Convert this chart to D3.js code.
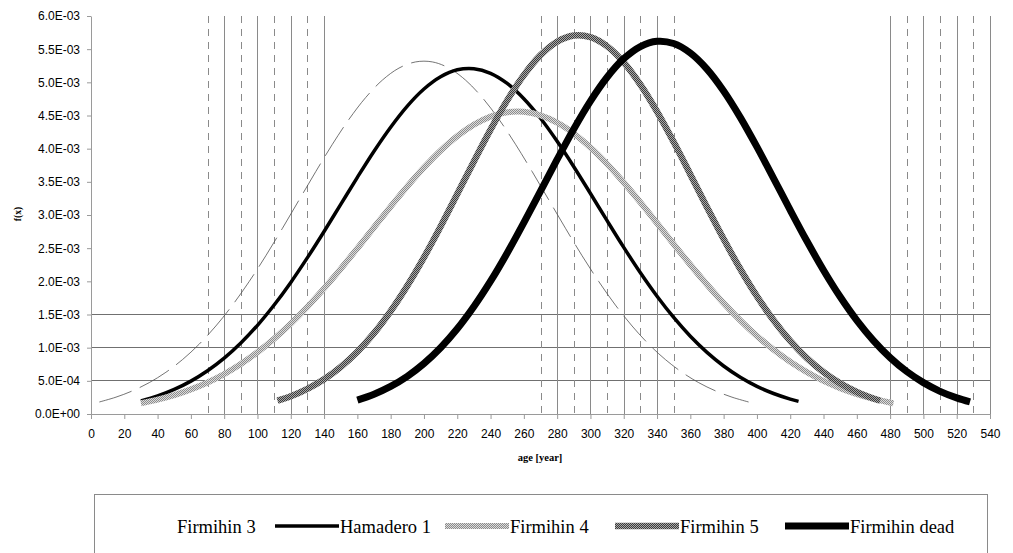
<!DOCTYPE html>
<html>
<head>
<meta charset="utf-8">
<script src="https://cdn.jsdelivr.net/npm/d3@7"></script>
<style>
  body { margin: 0; background: #fff; }
  svg { display: block; }
</style>
</head>
<body>
<svg id="chart"></svg>
<script>
// values are in units of 1E-03
const ageF3 = [5, 15, 25, 35, 45, 55, 65, 75, 85, 95, 105, 115, 125, 135, 145, 155, 165, 175, 185, 195,
               205, 215, 225, 235, 245, 255, 265, 275, 285, 295, 305, 315, 325, 335, 345, 355, 365, 375, 385, 395];
const valF3 = [0.181, 0.254, 0.350, 0.473, 0.629, 0.821, 1.053, 1.327, 1.642, 1.997, 2.385, 2.800, 3.227, 3.654,
               4.066, 4.444, 4.771, 5.033, 5.215, 5.308, 5.308, 5.215, 5.033, 4.771, 4.444, 4.066, 3.654, 3.227,
               2.800, 2.385, 1.997, 1.642, 1.327, 1.053, 0.821, 0.629, 0.473, 0.350, 0.254, 0.181];

const ageH1 = [30, 40, 50, 60, 70, 80, 90, 100, 110, 120, 130, 140, 150, 160, 170, 180, 190, 200, 210, 220,
               230, 240, 250, 260, 270, 280, 290, 300, 310, 320, 330, 340, 350, 360, 370, 380, 390, 400, 410, 420, 425];
const valH1 = [0.198, 0.273, 0.371, 0.496, 0.652, 0.842, 1.070, 1.337, 1.643, 1.984, 2.357, 2.752, 3.160, 3.568,
               3.962, 4.324, 4.642, 4.899, 5.084, 5.189, 5.206, 5.136, 4.983, 4.753, 4.458, 4.111, 3.728, 3.324,
               2.914, 2.512, 2.129, 1.775, 1.455, 1.172, 0.929, 0.724, 0.554, 0.417, 0.309, 0.225, 0.191];

const ageF4 = [30, 40, 50, 60, 70, 80, 90, 100, 110, 120, 130, 140, 150, 160, 170, 180, 190, 200, 210, 220,
               230, 240, 250, 260, 270, 280, 290, 300, 310, 320, 330, 340, 350, 360, 370, 380, 390, 400, 410, 420,
               430, 440, 450, 460, 470, 480, 482];
const valF4 = [0.162, 0.217, 0.285, 0.371, 0.476, 0.603, 0.754, 0.931, 1.134, 1.363, 1.617, 1.894, 2.189, 2.498,
               2.813, 3.127, 3.431, 3.715, 3.971, 4.190, 4.363, 4.484, 4.549, 4.555, 4.502, 4.392, 4.228, 4.018,
               3.769, 3.490, 3.189, 2.876, 2.561, 2.250, 1.952, 1.671, 1.412, 1.177, 0.969, 0.787, 0.632, 0.500,
               0.390, 0.301, 0.229, 0.172, 0.162];

const ageF5 = [112, 120, 130, 140, 150, 160, 170, 180, 190, 200, 210, 220, 230, 240, 250, 260, 270, 280, 290,
               300, 310, 320, 330, 340, 350, 360, 370, 380, 390, 400, 410, 420, 430, 440, 450, 460, 470, 474];
const valF5 = [0.202, 0.269, 0.380, 0.524, 0.709, 0.939, 1.219, 1.552, 1.934, 2.362, 2.827, 3.315, 3.808, 4.287,
               4.728, 5.109, 5.410, 5.612, 5.705, 5.681, 5.544, 5.301, 4.965, 4.558, 4.099, 3.612, 3.118, 2.638,
               2.186, 1.775, 1.413, 1.101, 0.841, 0.630, 0.461, 0.332, 0.234, 0.202];

const ageFd = [160, 170, 180, 190, 200, 210, 220, 230, 240, 250, 260, 270, 280, 290, 300, 310, 320, 330, 340,
               350, 360, 370, 380, 390, 400, 410, 420, 430, 440, 450, 460, 470, 480, 490, 500, 510, 520, 528];
const valFd = [0.210, 0.299, 0.416, 0.568, 0.761, 0.998, 1.284, 1.620, 2.002, 2.427, 2.885, 3.361, 3.838, 4.298,
               4.718, 5.077, 5.356, 5.540, 5.618, 5.585, 5.442, 5.200, 4.870, 4.472, 4.026, 3.553, 3.074, 2.607,
               2.168, 1.767, 1.412, 1.107, 0.850, 0.640, 0.473, 0.342, 0.243, 0.182];

const seriesNames = ["Firmihin 3", "Hamadero 1", "Firmihin 4", "Firmihin 5", "Firmihin dead"];

const xTicks = [0, 20, 40, 60, 80, 100, 120, 140, 160, 180, 200, 220, 240, 260, 280, 300, 320, 340, 360, 380,
                400, 420, 440, 460, 480, 500, 520, 540];
const yTicks = [0, 0.5, 1, 1.5, 2, 2.5, 3, 3.5, 4, 4.5, 5, 5.5, 6];
const yTickLabels = ["0.0E+00", "5.0E-04", "1.0E-03", "1.5E-03", "2.0E-03", "2.5E-03", "3.0E-03",
                     "3.5E-03", "4.0E-03", "4.5E-03", "5.0E-03", "5.5E-03", "6.0E-03"];

// reference lines
const solidAges = [80, 100, 120, 140, 280, 300, 320, 340, 480, 500, 520, 540];
const dashedAges = [70, 90, 110, 130, 270, 290, 310, 330, 350, 490, 510, 530];
const hLevels = [0.5, 1, 1.5];

const width = 1013;
const height = 553;

function drawChart() {
    const svg = d3.select("#chart").attr("width", width).attr("height", height);

    const x = d3.scaleLinear().domain([0, 540]).range([91, 990]);
    const y = d3.scaleLinear().domain([0, 6]).range([414, 16]);

    // dither patterns for the grey lines
    const defs = svg.append("defs");
    function dither(id, a, b) {
        const p = defs.append("pattern").attr("id", id).attr("patternUnits", "userSpaceOnUse")
            .attr("width", 2).attr("height", 2);
        p.append("rect").attr("width", 2).attr("height", 2).attr("fill", b);
        p.append("rect").attr("width", 1).attr("height", 1).attr("fill", a);
        p.append("rect").attr("x", 1).attr("y", 1).attr("width", 1).attr("height", 1).attr("fill", a);
    }
    dither("patLight", "#8c8c8c", "#dcdcdc");
    dither("patDark", "#3c3c3c", "#a8a8a8");

    const grid = svg.append("g");
    grid.selectAll("line.h").data(hLevels).enter().append("line").attr("class", "h")
        .attr("x1", x(0)).attr("x2", x(540)).attr("y1", d => y(d)).attr("y2", d => y(d))
        .attr("stroke", "#707070").attr("stroke-width", 1).attr("shape-rendering", "crispEdges");
    grid.selectAll("line.s").data(solidAges).enter().append("line").attr("class", "s")
        .attr("x1", d => Math.round(x(d)) + 0.5).attr("x2", d => Math.round(x(d)) + 0.5)
        .attr("y1", y(6)).attr("y2", y(0))
        .attr("stroke", "#8a8a8a").attr("stroke-width", 1);
    grid.selectAll("line.d").data(dashedAges).enter().append("line").attr("class", "d")
        .attr("x1", d => Math.round(x(d)) + 0.5).attr("x2", d => Math.round(x(d)) + 0.5)
        .attr("y1", y(6)).attr("y2", y(0))
        .attr("stroke", "#8a8a8a").attr("stroke-width", 1).attr("stroke-dasharray", "7,6");

    // axes
    const gx = svg.append("g").attr("transform", `translate(0,${y(0)})`)
        .call(d3.axisBottom(x).tickValues(xTicks).tickSize(5).tickPadding(10).tickSizeOuter(0));
    const gy = svg.append("g").attr("transform", `translate(${x(0)},0)`)
        .call(d3.axisLeft(y).tickValues(yTicks).tickSize(4).tickPadding(7).tickSizeOuter(0)
            .tickFormat((d, i) => yTickLabels[i]));
    [gx, gy].forEach(g => {
        g.select(".domain").attr("stroke", "#9a9a9a");
        g.selectAll(".tick line").attr("stroke", "#9a9a9a");
        g.selectAll("text").attr("font-family", "'Liberation Sans', Arial, sans-serif")
            .attr("font-size", 12).attr("fill", "#000");
    });

    svg.append("text").attr("x", 540).attr("y", 461).attr("text-anchor", "middle")
        .attr("font-family", "'Liberation Serif', 'Times New Roman', serif").attr("font-weight", "bold")
        .attr("font-size", 10.5).text("age [year]");
    svg.append("text").attr("transform", "translate(21,214) rotate(-90)").attr("text-anchor", "middle")
        .attr("font-family", "'Liberation Serif', 'Times New Roman', serif").attr("font-weight", "bold")
        .attr("font-size", 9.5).text("f(x)");

    const series = [
        {name: seriesNames[0], ages: ageF3, vals: valF3, stroke: "#505050", w: 0.8, dash: "34,9"},
        {name: seriesNames[1], ages: ageH1, vals: valH1, stroke: "#000", w: 3.5},
        {name: seriesNames[2], ages: ageF4, vals: valF4, stroke: "url(#patLight)", w: 6},
        {name: seriesNames[3], ages: ageF5, vals: valF5, stroke: "url(#patDark)", w: 6.5},
        {name: seriesNames[4], ages: ageFd, vals: valFd, stroke: "#000", w: 7}
    ];

    const line = d3.line().x(d => x(d[0])).y(d => y(d[1])).curve(d3.curveCatmullRom);
    svg.append("g").selectAll("path").data(series).enter().append("path")
        .attr("d", s => line(s.ages.map((a, i) => [a, s.vals[i]])))
        .attr("fill", "none").attr("stroke", s => s.stroke).attr("stroke-width", s => s.w)
        .attr("stroke-dasharray", s => s.dash || null)
        .attr("stroke-linejoin", "round").attr("stroke-linecap", "butt");

    // legend
    svg.append("rect").attr("x", 94.5).attr("y", 494.5).attr("width", 893).attr("height", 80)
        .attr("fill", "#fff").attr("stroke", "#8a8a8a").attr("stroke-width", 1);
    const entryW = 170;
    const legend = svg.append("g").attr("transform", "translate(105,0)");
    const item = legend.selectAll("g").data(series).enter().append("g")
        .attr("transform", (d, i) => `translate(${i * entryW},0)`);
    item.filter((d, i) => i > 0).append("line")
        .attr("x1", 0).attr("x2", 64).attr("y1", 526).attr("y2", 526)
        .attr("stroke", d => d.stroke).attr("stroke-width", d => d.w);
    item.append("text").attr("x", (d, i) => i > 0 ? 65 : 72).attr("y", 533)
        .attr("font-family", "'Liberation Serif', 'Times New Roman', serif").attr("font-size", 18.5)
        .attr("fill", "#000").text(d => d.name);
}

drawChart();
</script>
</body>
</html>
